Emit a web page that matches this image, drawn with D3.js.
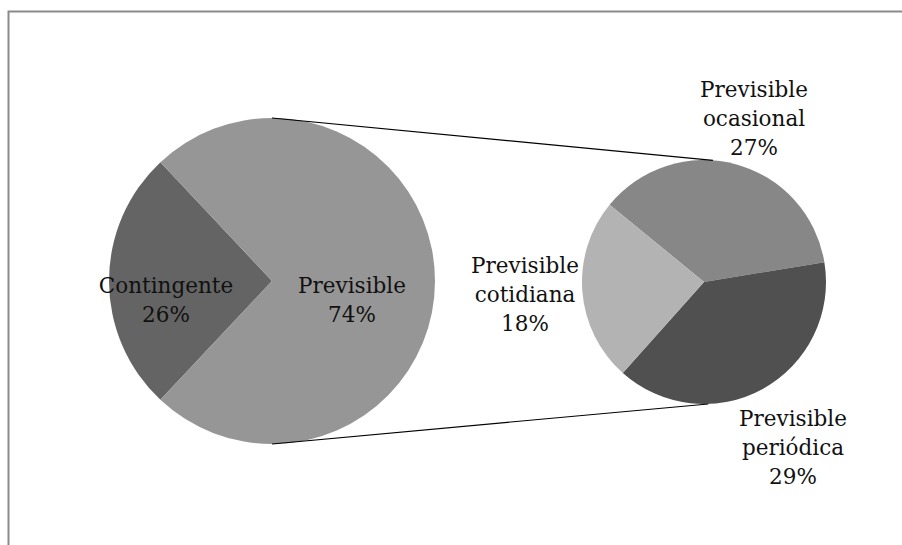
<!DOCTYPE html>
<html>
<head>
<meta charset="utf-8">
<script src="https://cdn.jsdelivr.net/npm/d3@7"></script>
<style>
  html, body { margin: 0; padding: 0; background: #fff; }
  svg { display: block; }
  text { font-family: "DejaVu Serif", serif; font-size: 21.5px; fill: #111; }
</style>
</head>
<body>
<svg id="chart" width="902" height="545"></svg>
<script>
// ---- data ----
const mainCategories = ["Contingente", "Previsible"];
const mainValues = [26, 74];
const mainColors = ["#646464", "#969696"];

const subCategories = ["Previsible ocasional", "Previsible periódica", "Previsible cotidiana"];
const subValues = [27, 29, 18];
const subColors = ["#878787", "#505050", "#b3b3b3"];

// ---- layout ----
const svg = d3.select("#chart");
const deg = Math.PI / 180;

// frame
svg.append("rect")
  .attr("x", 8.5).attr("y", 11.5)
  .attr("width", 1000).attr("height", 540)
  .attr("fill", "none").attr("stroke", "#8a8a8a").attr("stroke-width", 2);

const main = { cx: 272, cy: 281, r: 163 };
const sub = { cx: 704, cy: 282, r: 122 };

// Main pie: Contingente centered at 9 o'clock
const mainTotal = d3.sum(mainValues);
const contSpan = mainValues[0] / mainTotal * 2 * Math.PI;
const mainPie = d3.pie().sort(null)
  .startAngle(270 * deg - contSpan / 2)
  .endAngle(270 * deg - contSpan / 2 + 2 * Math.PI);
const mainArc = d3.arc().innerRadius(0).outerRadius(main.r);

const gMain = svg.append("g").attr("transform", `translate(${main.cx},${main.cy})`);
gMain.selectAll("path").data(mainPie(mainValues)).join("path")
  .attr("d", mainArc)
  .attr("fill", (d, i) => mainColors[i]);

// Sub pie
const subStart = 309.3 * deg;
const subPie = d3.pie().sort(null)
  .startAngle(subStart).endAngle(subStart + 2 * Math.PI);
const subArc = d3.arc().innerRadius(0).outerRadius(sub.r);
const gSub = svg.append("g").attr("transform", `translate(${sub.cx},${sub.cy})`);
gSub.selectAll("path").data(subPie(subValues)).join("path")
  .attr("d", subArc)
  .attr("fill", (d, i) => subColors[i]);

// connector lines
function pt(c, a) { return [c.cx + c.r * Math.sin(a), c.cy - c.r * Math.cos(a)]; }
const conn = [
  [pt(main, 0), pt(sub, 4.2 * deg)],
  [pt(main, 180 * deg), pt(sub, 178 * deg)]
];
svg.selectAll("line.conn").data(conn).join("line")
  .attr("class", "conn")
  .attr("x1", d => d[0][0]).attr("y1", d => d[0][1])
  .attr("x2", d => d[1][0]).attr("y2", d => d[1][1])
  .attr("stroke", "#000").attr("stroke-width", 1.1);

// labels (percent of the whole)
const fmt = v => Math.round(v / mainTotal * 100) + "%";
const lineH = 29;
const labels = [
  { lines: [mainCategories[0], fmt(mainValues[0])], x: 166, y: 293 },
  { lines: [mainCategories[1], fmt(mainValues[1])], x: 352, y: 293 },
  { lines: subCategories[0].split(" ").concat([fmt(subValues[0])]), x: 754, y: 97 },
  { lines: subCategories[1].split(" ").concat([fmt(subValues[1])]), x: 793, y: 426 },
  { lines: subCategories[2].split(" ").concat([fmt(subValues[2])]), x: 525, y: 273 }
];
const tl = svg.selectAll("text.lbl").data(labels).join("text")
  .attr("class", "lbl")
  .attr("text-anchor", "middle");
tl.each(function(d) {
  d3.select(this).selectAll("tspan").data(d.lines).join("tspan")
    .attr("x", d.x)
    .attr("y", (s, i) => d.y + i * lineH)
    .text(s => s);
});
</script>
</body>
</html>
